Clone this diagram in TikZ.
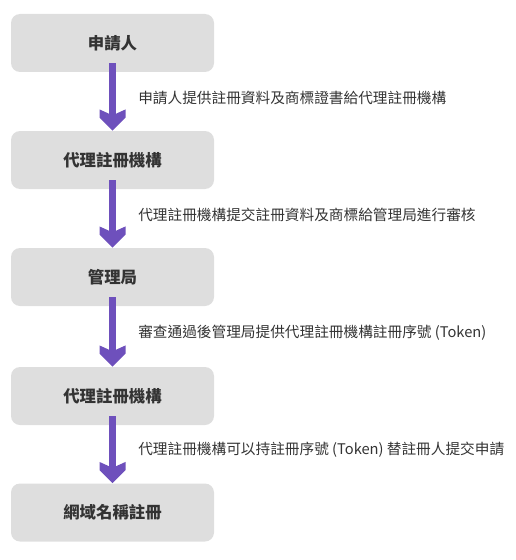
\documentclass[tikz,border=0pt]{standalone}
\usepackage{fontspec}
\setmainfont{Noto Sans CJK TC}
\usetikzlibrary{positioning,calc}
\definecolor{BoxGray}{RGB}{222,222,222}
\definecolor{FlowPurple}{RGB}{110,80,188}
\definecolor{TextGray}{RGB}{51,51,51}

\begin{document}
\begin{tikzpicture}[
    x=0.75pt,y=-0.75pt,
    stage/.style={fill=BoxGray, rounded corners=6.75pt, minimum width=152.25pt, minimum height=43.5pt, inner sep=0pt, text=TextGray, font=\fontsize{12.3}{14}\selectfont\bfseries},
    note/.style={anchor=west, inner sep=0pt, text=TextGray, font=\fontsize{11}{13}\selectfont},
    shaft/.style={draw=FlowPurple, line width=5.25pt, line cap=butt}
  ]
    \useasboundingbox (0,0) rectangle (515,560);
    \node[stage] (s1) at (112.5,43) {申請人};
    \node[stage] (s2) at (112.5,160) {代理註冊機構};
    \node[stage] (s3) at (112.5,277) {管理局};
    \node[stage] (s4) at (112.5,396) {代理註冊機構};
    \node[stage] (s5) at (112.5,512.5) {網域名稱註冊};
    \foreach \a/\b/\y/\txt in {s1/s2/98/{申請人提供註冊資料及商標證書給代理註冊機構},
                               s2/s3/215/{代理註冊機構提交註冊資料及商標給管理局進行審核},
                               s3/s4/333/{審查通過後管理局提供代理註冊機構註冊序號 (Token)},
                               s4/s5/450/{代理註冊機構可以持註冊序號 (Token) 替註冊人提交申請}} {
      \draw[shaft] ([yshift=6.75pt]\a.south) -- ([yshift=12pt]\b.north);
      \fill[FlowPurple] ([shift={(-13,-21.3)}]\b.north) -- ([shift={(-3.5,-17)}]\b.north)
        -- ([shift={(3.5,-17)}]\b.north) -- ([shift={(13,-21.3)}]\b.north)
        -- ([shift={(13,-13)}]\b.north) -- (\b.north) -- ([shift={(-13,-13)}]\b.north) -- cycle;
      \node[note] (n\a) at (138,\y) {\txt};
    }
\end{tikzpicture}
\end{document}
